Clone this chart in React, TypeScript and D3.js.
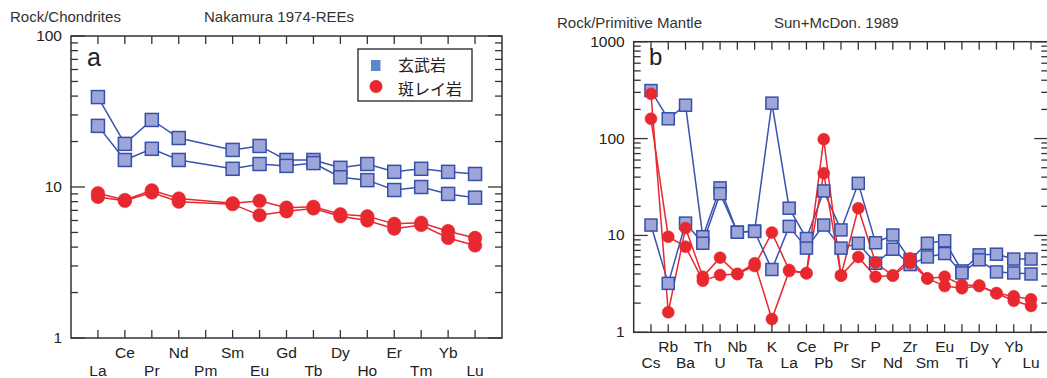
import React from "react";
import * as d3 from "d3";

const REE = ["La","Ce","Pr","Nd","Pm","Sm","Eu","Gd","Tb","Dy","Ho","Er","Tm","Yb","Lu"];
const basaltA1 = [39.4, 19.3, 27.8, 21.1, null, 17.6, 18.7, 15.1, 15.1, 13.4, 14.2, 12.6, 13.2, 12.6, 12.2];
const basaltA2 = [25.4, 15.1, 17.9, 15.1, null, 13.2, 14.2, 13.8, 14.4, 11.6, 11.1, 9.55, 10.0, 9.0, 8.5];
const gabbroA1 = [9.1, 8.2, 9.5, 8.4, null, 7.8, 8.1, 7.3, 7.4, 6.6, 6.4, 5.7, 5.8, 5.1, 4.6];
const gabbroA2 = [8.6, 8.1, 9.2, 8.0, null, 7.7, 6.5, 6.9, 7.2, 6.4, 6.0, 5.3, 5.6, 4.6, 4.1];

const SPIDER = ["Cs","Rb","Ba","Th","U","Nb","Ta","K","La","Ce","Pb","Pr","Sr","P","Nd","Zr","Sm","Eu","Ti","Dy","Y","Yb","Lu"];
const basaltB1 = [313, 160, 221, 9.7, 31, 10.8, 11.1, 232, 19.1, 9.3, 28.8, 11.4, 34.5, 8.4, 10.1, 5.6, 8.3, 8.8, 4.3, 6.3, 6.4, 5.7, 5.7];
const basaltB2 = [12.8, 3.2, 13.4, 8.3, 27, 10.8, 11.0, 4.45, 12.4, 7.4, 12.8, 7.4, 8.3, 5.16, 7.2, 5.0, 6.0, 6.5, 4.1, 5.6, 4.2, 4.1, 4.0];
const gabbroB1 = [290, 1.61, 11.9, 3.75, 5.9, 4.0, 5.16, 1.37, 4.3, 4.07, 98.6, 3.85, 19.1, 5.24, 3.85, 5.8, 3.6, 3.75, 3.08, 3.05, 2.53, 2.35, 2.19];
const gabbroB2 = [160, 9.7, 7.66, 3.41, 3.9, 4.0, 4.84, 10.7, 4.4, 4.07, 43.9, 3.85, 6.0, 3.75, 3.85, 5.2, 3.6, 3.0, 2.85, 3.0, 2.53, 2.12, 1.87];

const LEGEND = ["玄武岩", "斑レイ岩"];
const YTICKS_A = [1, 10, 100];
const YTICKS_B = [1, 10, 100, 1000];

const BLUE_LINE = "#3a52b0";
const BLUE_FILL = "#9ea5d8";
const BLUE_EDGE = "#3550aa";
const RED = "#e8282f";
const AXIS = "#333";
const FONT = "'Liberation Sans', Arial, sans-serif";

type PanelProps = {
  x0: number; x1: number; yTop: number; yBot: number;
  domain: [number, number];
  cats: string[];
  yTicks: number[];
  blue: (number | null)[][];
  red: (number | null)[][];
  sq: number; r: number;
  labelY: [number, number];
};

function Panel(p: PanelProps) {
  const n = p.cats.length;
  const x = d3.scaleLinear().domain([-1, n]).range([p.x0, p.x1]);
  const y = d3.scaleLog().domain(p.domain).range([p.yBot, p.yTop]);
  const minor: number[] = [];
  for (let e = Math.log10(p.domain[0]); e < Math.log10(p.domain[1]); e++) {
    for (let m = 2; m <= 9; m++) minor.push(m * Math.pow(10, e));
  }
  const line = d3.line<[number, number]>().x(d => x(d[0])).y(d => y(d[1]));
  const pts = (s: (number | null)[]) =>
    s.map((v, i) => [i, v] as [number, number | null]).filter(d => d[1] != null) as [number, number][];
  return (
    <g>
      {p.blue.map((s, k) => (
        <path key={"bl" + k} d={line(pts(s)) || ""} fill="none" stroke={BLUE_LINE} strokeWidth={1.5} />
      ))}
      {p.red.map((s, k) => (
        <path key={"rl" + k} d={line(pts(s)) || ""} fill="none" stroke={RED} strokeWidth={1.5} />
      ))}
      {p.blue.map((s, k) =>
        pts(s).map(d => (
          <rect key={"bm" + k + "-" + d[0]} x={x(d[0]) - p.sq / 2} y={y(d[1]) - p.sq / 2} width={p.sq} height={p.sq}
            fill={BLUE_FILL} stroke={BLUE_EDGE} strokeWidth={1.5} />
        ))
      )}
      {p.red.map((s, k) =>
        pts(s).map(d => (
          <circle key={"rm" + k + "-" + d[0]} cx={x(d[0])} cy={y(d[1])} r={p.r} fill={RED} stroke={RED} strokeWidth={0.5} />
        ))
      )}
      <rect x={p.x0} y={p.yTop} width={p.x1 - p.x0} height={p.yBot - p.yTop} fill="none" stroke={AXIS} strokeWidth={1.5} />
      {p.cats.map((c, i) => (
        <g key={"xt" + c + i}>
          <line x1={x(i)} x2={x(i)} y1={p.yBot} y2={p.yBot - 8} stroke={AXIS} strokeWidth={1.3} />
          <line x1={x(i)} x2={x(i)} y1={p.yTop} y2={p.yTop + 8} stroke={AXIS} strokeWidth={1.3} />
          <text x={x(i)} y={i % 2 === 0 ? p.labelY[1] : p.labelY[0]} textAnchor="middle" fontSize={15.5} fill="#222" fontFamily={FONT}>{c}</text>
        </g>
      ))}
      {minor.map(v => (
        <g key={"mt" + v}>
          <line x1={p.x0} x2={p.x0 + 7} y1={y(v)} y2={y(v)} stroke={AXIS} strokeWidth={1.3} />
          <line x1={p.x1} x2={p.x1 - 7} y1={y(v)} y2={y(v)} stroke={AXIS} strokeWidth={1.3} />
        </g>
      ))}
      {p.yTicks.map(v => (
        <g key={"yt" + v}>
          <line x1={p.x0} x2={p.x0 + 14} y1={y(v)} y2={y(v)} stroke={AXIS} strokeWidth={1.3} />
          <line x1={p.x1} x2={p.x1 - 14} y1={y(v)} y2={y(v)} stroke={AXIS} strokeWidth={1.3} />
          <text x={p.x0 - 9} y={y(v) + 5} textAnchor="end" fontSize={15.5} fill="#222" fontFamily={FONT}>{v}</text>
        </g>
      ))}
    </g>
  );
}

export default function App() {
  return (
    <svg width={1047} height={378} style={{ position: "absolute", left: 0, top: 0, background: "#fff" }}>
      <rect width={1047} height={378} fill="#fff" />
      <text x={10} y={22} fontSize={15} fill="#333" fontFamily={FONT}>Rock/Chondrites</text>
      <text x={204} y={22} fontSize={15} fill="#333" fontFamily={FONT}>Nakamura 1974-REEs</text>
      <text x={557} y={28} fontSize={15} fill="#333" fontFamily={FONT}>Rock/Primitive Mantle</text>
      <text x={774} y={28} fontSize={15} fill="#333" fontFamily={FONT}>Sun+McDon. 1989</text>
      <Panel x0={71} x1={502} yTop={36} yBot={338} domain={[1, 100]} cats={REE} yTicks={YTICKS_A}
        blue={[basaltA1, basaltA2]} red={[gabbroA1, gabbroA2]} sq={13} r={6.8} labelY={[358, 376]} />
      <Panel x0={633.7} x1={1048.3} yTop={41.7} yBot={332.3} domain={[1, 1000]} cats={SPIDER} yTicks={YTICKS_B}
        blue={[basaltB1, basaltB2]} red={[gabbroB1, gabbroB2]} sq={12} r={6} labelY={[352, 368]} />
      <text x={87} y={66} fontSize={25} fill="#222" fontFamily={FONT}>a</text>
      <text x={649} y={65} fontSize={24} fill="#222" fontFamily={FONT}>b</text>
      <rect x={358} y={49} width={114} height={52} fill="#fff" stroke="#222" strokeWidth={1.3} />
      <rect x={371} y={60} width={9.5} height={11} fill="#5b88c9" />
      <circle cx={376} cy={86.5} r={6.5} fill={RED} />
      <text x={398} y={71} fontSize={16} fill="#222" fontFamily="'Noto Sans CJK JP', sans-serif">{LEGEND[0]}</text>
      <text x={398} y={94.5} fontSize={16} fill="#222" fontFamily="'Noto Sans CJK JP', sans-serif">{LEGEND[1]}</text>
    </svg>
  );
}
